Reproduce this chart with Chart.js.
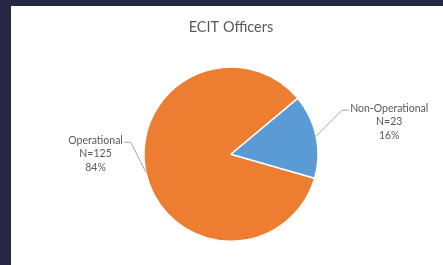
<!DOCTYPE html>
<html>
<head>
<meta charset="utf-8">
<script src="https://cdn.jsdelivr.net/npm/chart.js@4"></script>
<style>
  html, body { margin: 0; padding: 0; background: #262843; }
  body { width: 443px; height: 265px; overflow: hidden; position: relative; }
  #box { position: absolute; left: 11px; top: 6px; width: 432px; height: 259px; background: #fff; }
</style>
</head>
<body>
<div id="box"><canvas id="myChart" width="432" height="259"></canvas></div>
<script>
const title = 'ECIT Officers';
const categories = ['Operational', 'Non-Operational'];
const counts = [125, 23];
const percents = ['84%', '16%'];
const colors = ['#ED7D31', '#5B9BD5'];

// leader line / label placement, per slice (elbow offset from edge point)
const labelLayout = [
    { dx: -15, dy: -30, run: -7 },
    { dx: 26, dy: -26, run: 7 }
];

const calloutPlugin = {
    id: 'callouts',
    afterDatasetsDraw(chart) {
        const ctx = chart.ctx;
        const meta = chart.getDatasetMeta(0);
        ctx.save();
        ctx.font = '10.5px Lato';
        ctx.textBaseline = 'middle';
        meta.data.forEach((arc, i) => {
            const p = arc.getProps(['x', 'y', 'startAngle', 'endAngle', 'outerRadius'], true);
            const mid = (p.startAngle + p.endAngle) / 2;
            const ex = p.x + Math.cos(mid) * p.outerRadius;
            const ey = p.y + Math.sin(mid) * p.outerRadius;
            const lay = labelLayout[i];
            const bx = ex + lay.dx, by = ey + lay.dy;
            const tx = bx + lay.run;
            ctx.strokeStyle = '#A6A6A6';
            ctx.lineWidth = 1;
            ctx.beginPath();
            ctx.moveTo(ex, ey);
            ctx.lineTo(bx, by);
            ctx.lineTo(tx, by);
            ctx.stroke();

            const lines = [categories[i], 'N=' + counts[i], percents[i]];
            const w = ctx.measureText(lines[0]).width;
            const cx = lay.run < 0 ? tx - 1 - w / 2 : tx + 1 + w / 2;
            ctx.fillStyle = '#595959';
            ctx.textAlign = 'center';
            lines.forEach((t, k) => ctx.fillText(t, cx, by - 2 + k * 13.5));
        });
        ctx.restore();
    }
};

new Chart(document.getElementById('myChart'), {
    type: 'pie',
    data: {
        labels: categories,
        datasets: [{
            data: counts,
            backgroundColor: colors,
            borderColor: '#ffffff',
            borderWidth: 1.5
        }]
    },
    options: {
        responsive: false,
        animation: false,
        rotation: 106,
        layout: { padding: { left: 8, right: 0, bottom: 23 } },
        plugins: {
            legend: { display: false },
            tooltip: { enabled: false },
            title: {
                display: true,
                text: title,
                color: '#595959',
                font: { family: 'Lato', size: 14.5, weight: 'normal' },
                padding: { top: 13, bottom: 30 }
            }
        }
    },
    plugins: [calloutPlugin]
});
</script>
</body>
</html>
